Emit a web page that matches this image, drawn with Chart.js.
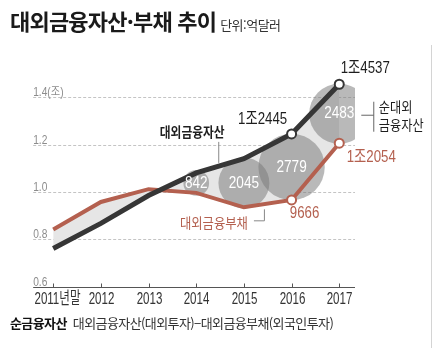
<!DOCTYPE html>
<html lang="ko">
<head>
<meta charset="utf-8">
<title>대외금융자산·부채 추이</title>
<script src="https://cdn.jsdelivr.net/npm/chart.js@4.4.1/dist/chart.umd.min.js"></script>
<style>
  html, body { margin: 0; padding: 0; background: #fff; }
  #wrap { position: relative; width: 434px; height: 348px; overflow: hidden; font-family: "Noto Sans CJK KR", sans-serif; color: #222; }
  #chart { position: absolute; left: 0; top: 0; }
  .title { position: absolute; left: 10px; top: 7px; font-size: 22px; font-weight: bold; letter-spacing: -0.8px; white-space: nowrap; line-height: 26px; color: #1a1a1a; }
  .title .unit { font-size: 13px; font-weight: normal; letter-spacing: -0.5px; margin-left: 4px; color: #333; }
  .note { position: absolute; left: 10px; top: 314px; font-size: 13px; letter-spacing: -0.6px; white-space: nowrap; color: #333; line-height: 18px; }
  .note b { color: #111; margin-right: 3px; }
  .edge { position: absolute; left: 431px; top: 45px; width: 1px; height: 303px; background: #d4d4d4; }
</style>
</head>
<body>
<div id="wrap">
  <canvas id="chart" width="434" height="348"></canvas>
  <div class="title">대외금융자산·부채 추이<span class="unit">단위:억달러</span></div>
  <div class="note"><b>순금융자산</b> 대외금융자산(대외투자)−대외금융부채(외국인투자)</div>
  <div class="edge"></div>
</div>
<script>
// values in 조 달러 (1.0 = 1조 = 10000억)
const years = ['2011년말', '2012', '2013', '2014', '2015', '2016', '2017'];
const assets = [0.762, 0.868, 0.985, 1.0805, 1.14, 1.2445, 1.4537];
const liabilities = [0.842, 0.958, 1.012, 0.9963, 0.9355, 0.9666, 1.2054];
const netAssets = [null, null, null, 842, 2045, 2779, 2483];   // 억 달러
const yTicks = [0.6, 0.8, 1.0, 1.2, 1.4];

const BLACK = '#363636';
const RED = '#b4604f';
const NUM_FONT = '"Liberation Sans", "Noto Sans CJK KR", sans-serif';
const KR_FONT = '"Noto Sans CJK KR", sans-serif';

function toEok(v) {
    const e = Math.round(v * 10000);
    if (e >= 10000) return Math.floor(e / 10000) + '조' + String(e % 10000).padStart(4, '0');
    return String(e);
}

function drawText(ctx, str, x, y, o) {
    ctx.save();
    ctx.font = (o.weight || 'normal') + ' ' + o.size + 'px ' + (o.family || NUM_FONT);
    ctx.fillStyle = o.color || '#222';
    ctx.textAlign = o.align || 'center';
    ctx.textBaseline = o.baseline || 'middle';
    ctx.translate(x, y);
    ctx.scale(o.sx || 1, 1);
    ctx.fillText(str, 0, 0);
    ctx.restore();
}

function line(ctx, pts, color) {
    ctx.save();
    ctx.strokeStyle = color || '#777';
    ctx.lineWidth = 1;
    ctx.beginPath();
    pts.forEach((p, i) => i ? ctx.lineTo(p[0], p[1]) : ctx.moveTo(p[0], p[1]));
    ctx.stroke();
    ctx.restore();
}

// dashed grid, axis line, ticks and labels
const axesPlugin = {
    id: 'axesPlugin',
    beforeDraw(chart) {
        const ctx = chart.ctx;
        const xs = chart.scales.x, ys = chart.scales.y;
        const { left, right } = chart.chartArea;

        yTicks.forEach((v, i) => {
            const y = Math.round(ys.getPixelForValue(v)) + 0.5;
            if (i > 0) {
                ctx.save();
                ctx.strokeStyle = '#c4c4c4';
                ctx.setLineDash([3, 2]);
                ctx.beginPath();
                ctx.moveTo(left, y);
                ctx.lineTo(right, y);
                ctx.stroke();
                ctx.restore();
            }
            const txt = v.toFixed(1) + (i === yTicks.length - 1 ? '(조)' : '');
            drawText(ctx, txt, left, y - 2, { size: 12, color: '#8c8c8c', align: 'left', baseline: 'alphabetic', sx: 0.85 });
        });

        const y0 = Math.round(ys.getPixelForValue(yTicks[0])) + 0.5;
        line(ctx, [[left, y0], [right, y0]], '#555');
        years.forEach((lbl, i) => {
            const x = Math.round(xs.getPixelForValue(i)) + 0.5;
            line(ctx, [[x, y0 - 4], [x, y0]], '#555');
            drawText(ctx, lbl, x + (i === 0 ? 4 : 0), y0 + 12, { size: 16.5, color: '#333', sx: 0.7 });
        });
    }
};

// bubble numbers, value call-outs, series names
const labelPlugin = {
    id: 'labelPlugin',
    afterDatasetsDraw(chart) {
        const ctx = chart.ctx;
        const xs = chart.scales.x, ys = chart.scales.y;
        const px = i => xs.getPixelForValue(i);
        const py = v => ys.getPixelForValue(v);

        chart.getDatasetMeta(2).data.forEach((el, k) => {
            const raw = chart.data.datasets[2].data[k];
            drawText(ctx, String(raw.net), el.x, el.y, { size: 17, color: '#fff', sx: 0.8 });
        });

        const opt = { size: 17, sx: 0.78 };
        drawText(ctx, toEok(assets[6]), px(6) + 26, py(assets[6]) - 16, { ...opt, color: '#1e1e1e' });
        drawText(ctx, toEok(assets[5]), px(5) - 29, py(assets[5]) - 15, { ...opt, color: '#1e1e1e' });
        drawText(ctx, toEok(liabilities[6]), px(6) + 32, py(liabilities[6]) + 14, { ...opt, color: RED });
        drawText(ctx, toEok(liabilities[5]), px(5) + 13, py(liabilities[5]) + 13, { ...opt, color: RED });

        // 대외금융자산
        const ax = px(3) - 4, ay = py(assets[3]) - 41;
        drawText(ctx, '대외금융자산', ax, ay, { size: 14, family: KR_FONT, color: '#1e1e1e', sx: 0.84, weight: 'bold' });
        line(ctx, [[px(3) + 22.5, ay + 10], [px(3) + 22.5, ay + 31]], '#888');

        // 대외금융부채
        const lx = px(4) - 30, ly = py(liabilities[4]) + 15;
        drawText(ctx, '대외금융부채', lx, ly, { size: 14, family: KR_FONT, color: RED, sx: 0.88 });
        line(ctx, [[lx + 40, ly - 1.5], [lx + 50.5, ly - 1.5], [lx + 50.5, ly - 13]], '#888');

        // 순대외 금융자산 bracket
        const b = chart.getDatasetMeta(2).data[3];
        const bx = b.x + 34.5, by = b.y;
        line(ctx, [[b.x + 22, by + 1.5], [bx, by + 1.5]], '#666');
        line(ctx, [[bx, by - 12], [bx, by + 18]], '#666');
        drawText(ctx, '순대외', bx + 5, by - 7, { size: 14, family: KR_FONT, color: '#1e1e1e', align: 'left', sx: 0.87 });
        drawText(ctx, '금융자산', bx + 5, by + 11, { size: 14, family: KR_FONT, color: '#1e1e1e', align: 'left', sx: 0.87 });
    }
};

const pointSizes = years.map((_, i) => (i >= 5 ? 4.5 : 0));
const bubbleData = netAssets
    .map((n, i) => (n == null ? null : { x: i, y: (assets[i] + liabilities[i]) / 2, r: 4 + n * 0.0105, net: n }))
    .filter(d => d);

const ctx = document.getElementById('chart').getContext('2d');
new Chart(ctx, {
    type: 'line',
    data: {
        datasets: [
            {
                label: '대외금융자산',
                data: assets.map((v, i) => ({ x: i, y: v })),
                borderColor: BLACK,
                borderWidth: 5,
                backgroundColor: '#e6e6e6',
                fill: 1,
                tension: 0,
                pointRadius: pointSizes,
                pointBackgroundColor: '#fff',
                pointBorderColor: BLACK,
                pointBorderWidth: 2,
                order: 1
            },
            {
                label: '대외금융부채',
                data: liabilities.map((v, i) => ({ x: i, y: v })),
                borderColor: RED,
                borderWidth: 4,
                fill: false,
                tension: 0,
                pointRadius: pointSizes,
                pointBackgroundColor: '#fff',
                pointBorderColor: RED,
                pointBorderWidth: 2,
                order: 2
            },
            {
                type: 'bubble',
                label: '순대외금융자산',
                data: bubbleData,
                backgroundColor: 'rgba(120, 120, 120, 0.52)',
                borderWidth: 0,
                order: 3
            }
        ]
    },
    options: {
        responsive: false,
        animation: false,
        devicePixelRatio: 1,
        events: [],
        layout: { padding: { left: 8, right: 79, top: 49.5, bottom: 61 } },
        plugins: {
            legend: { display: false },
            tooltip: { enabled: false },
            filler: { drawTime: 'beforeDatasetsDraw' }
        },
        scales: {
            x: { type: 'linear', display: false, min: -0.42, max: 6.33 },
            y: { type: 'linear', display: false, min: 0.6, max: 1.6 }
        }
    },
    plugins: [axesPlugin, labelPlugin]
});
</script>
</body>
</html>
